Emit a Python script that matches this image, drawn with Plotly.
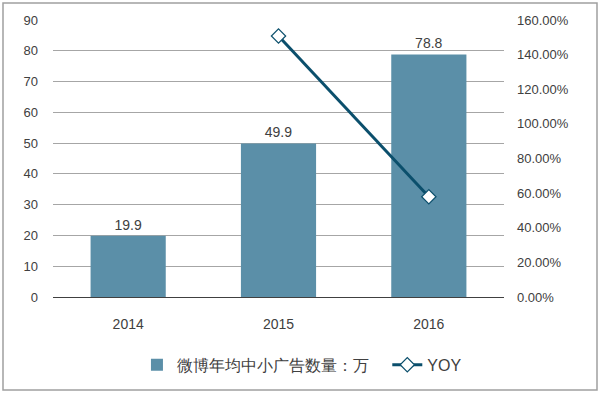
import plotly.graph_objects as go

years = ["2014", "2015", "2016"]
ad_counts = [19.9, 49.9, 78.8]
yoy_years = ["2015", "2016"]
yoy_values = [1.5075, 0.5792]
bar_name = "微博年均中小广告数量：万"
line_name = "YOY"

fig = go.Figure()
fig.add_trace(go.Bar(
    x=years, y=ad_counts, name=bar_name + "\u00a0\u00a0\u00a0",
    marker=dict(color="#5B8FA8", line=dict(color="#5B8FA8", width=0)),
    text=[f"{v:.1f}" for v in ad_counts], textposition="outside",
    textfont=dict(size=14, color="#404040"), cliponaxis=False,
))
fig.add_trace(go.Scatter(
    x=yoy_years, y=yoy_values, name=line_name, yaxis="y2",
    mode="lines+markers",
    line=dict(color="#0B4F6C", width=3),
    marker=dict(symbol="diamond", size=11, color="white",
                line=dict(color="#0B4F6C", width=1.2)),
    cliponaxis=False,
))

fig.update_layout(
    width=600, height=395,
    margin=dict(l=53, r=96, t=20, b=98),
    paper_bgcolor="white", plot_bgcolor="white",
    font=dict(family="Liberation Sans, Arial, sans-serif", size=13, color="#404040"),
    bargap=0.5,
    showlegend=True,
    legend=dict(orientation="h", x=0.552, xanchor="center", y=-0.245, yanchor="middle",
                font=dict(size=16, color="#404040"), itemwidth=30),
    xaxis=dict(showgrid=False, ticks="", showline=True, linecolor="#404040", linewidth=1,
               tickfont=dict(size=14), ticklabelstandoff=14),
    yaxis=dict(range=[0, 90], dtick=10, showgrid=True, gridcolor="#A6A6A6", gridwidth=1,
               zeroline=False, showline=False, ticks="", tickfont=dict(size=13),
               ticklabelstandoff=14),
    yaxis2=dict(range=[0, 1.6], dtick=0.2, tickformat=".2%", overlaying="y", side="right",
                showgrid=False, zeroline=False, showline=False, ticks="",
                tickfont=dict(size=13), ticklabelstandoff=12),
    shapes=[dict(type="rect", xref="paper", yref="paper",
                 x0=-50/451, x1=(597-53)/451, y0=(297-390)/277, y1=(297-3)/277,
                 line=dict(color="#A0A0A0", width=1.5), fillcolor="rgba(0,0,0,0)", layer="below")],
)

fig.write_html("out.html", config={"displayModeBar": False},
               post_script="document.body.style.margin='0';document.body.style.overflow='hidden';")
